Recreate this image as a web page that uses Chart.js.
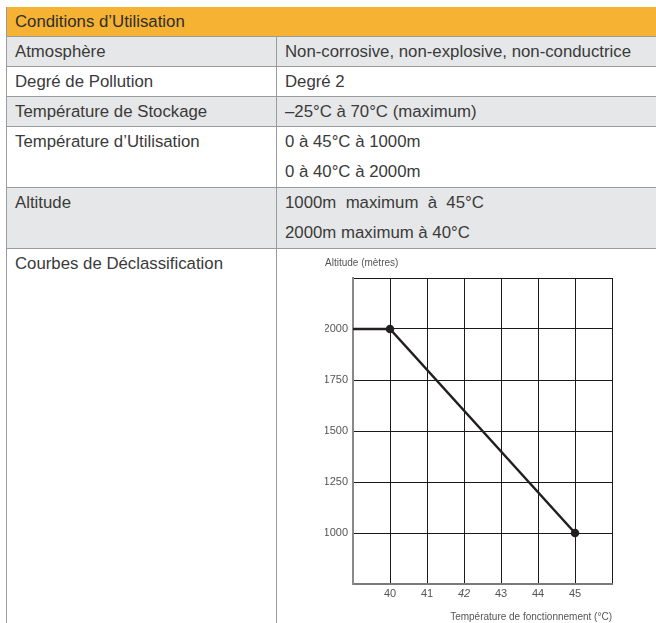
<!DOCTYPE html>
<html>
<head>
<meta charset="utf-8">
<script src="https://cdn.jsdelivr.net/npm/chart.js@4/dist/chart.umd.min.js"></script>
<style>
  body { margin: 0; background: #fff; font-family: 'Liberation Sans', Arial, sans-serif; color: #3a3a3a; }
  .page { position: relative; width: 656px; height: 623px; overflow: hidden; }
  table { position: absolute; left: 6px; top: 7px; width: 665px; border-collapse: collapse; table-layout: fixed; font-size: 16.8px; }
  td { border: 1.5px solid #9b9b9b; padding: 0 0 0 8px; vertical-align: middle; line-height: 29px; white-space: nowrap; }
  tr.head td { background: #f6b233; height: 28px; border-top: none; border-right: none; color: #2e2e2e; }
  tr.grey td { background: #e6e7e8; }
  td.lines { line-height: 30px; }
  td.top { vertical-align: top; line-height: 30px; }
  .chart-wrap { position: absolute; left: 300px; top: 250px; width: 340px; height: 373px; }
</style>
</head>
<body>
<div class="page">
  <table>
    <colgroup><col style="width:270px"><col></colgroup>
    <tr class="head"><td colspan="2">Conditions d’Utilisation</td></tr>
    <tr class="grey"><td>Atmosphère</td><td>Non-corrosive, non-explosive, non-conductrice</td></tr>
    <tr><td>Degré de Pollution</td><td>Degré 2</td></tr>
    <tr class="grey"><td>Température de Stockage</td><td>–25°C à 70°C (maximum)</td></tr>
    <tr><td class="top">Température d’Utilisation</td><td class="lines">0 à 45°C à 1000m<br>0 à 40°C à 2000m</td></tr>
    <tr class="grey"><td class="top">Altitude</td><td class="lines">1000m&nbsp; maximum&nbsp; à&nbsp; 45°C<br>2000m maximum à 40°C</td></tr>
    <tr><td class="top" style="height:400px">Courbes de Déclassification</td><td></td></tr>
  </table>
  <div class="chart-wrap"><canvas id="derating"></canvas></div>
</div>
<script>
// derating curve
const temps = [39, 40, 45];
const altitudes = [2000, 2000, 1000];
const tempTicks = [40, 41, 42, 43, 44, 45];
const altTicks = [1000, 1250, 1500, 1750, 2000];
const yTitle = 'Altitude (mètres)';
const xTitle = 'Température de fonctionnement (°C)';

const font = "'Liberation Sans', Arial, sans-serif";

new Chart(document.getElementById('derating'), {
  type: 'line',
  data: {
    datasets: [{
      data: temps.map((t, i) => ({ x: t, y: altitudes[i] })),
      borderColor: '#231f20',
      backgroundColor: '#231f20',
      borderWidth: 2.5,
      pointRadius: ctx => (ctx.dataIndex === 0 ? 0 : 3),
      pointHoverRadius: 3,
      tension: 0,
    }],
  },
  options: {
    responsive: true,
    maintainAspectRatio: false,
    animation: false,
    layout: { padding: { left: 25, right: 28, top: 0, bottom: 0 } },
    plugins: {
      legend: { display: false },
      tooltip: { enabled: false },
      title: {
        display: true,
        text: yTitle,
        align: 'start',
        color: '#555',
        font: { family: font, size: 10, weight: 'normal' },
        padding: { top: 7, bottom: 9 },
      },
    },
    scales: {
      x: {
        type: 'linear',
        min: 39,
        max: 46,
        afterBuildTicks: s => { s.ticks = [39, ...tempTicks, 46].map(v => ({ value: v })); },
        afterFit: s => { s.height = 39; },
        ticks: {
          color: '#555',
          padding: 3,
          font: ctx => ({ family: font, size: 11, style: ctx.tick && ctx.tick.value === 42 ? 'italic' : 'normal' }),
          callback: v => (tempTicks.includes(v) ? String(v) : ''),
        },
        grid: { color: '#1a1a1a', lineWidth: 1, drawTicks: false },
        border: { color: '#7a7a7a', width: 2 },
        title: {
          display: true,
          text: xTitle,
          align: 'end',
          color: '#555',
          font: { family: font, size: 10 },
          padding: { top: 4, bottom: 0 },
        },
      },
      y: {
        min: 750,
        max: 2250,
        afterBuildTicks: s => { s.ticks = [750, ...altTicks, 2250].map(v => ({ value: v })); },
        afterFit: s => { s.width = 28; },
        ticks: {
          color: '#555',
          padding: 5,
          font: { family: font, size: 11 },
          callback: v => (altTicks.includes(v) ? String(v) : ''),
        },
        grid: { color: '#1a1a1a', lineWidth: 1, drawTicks: false },
        border: { color: '#8a8a8a', width: 2 },
      },
    },
  },
});
</script>
</body>
</html>
